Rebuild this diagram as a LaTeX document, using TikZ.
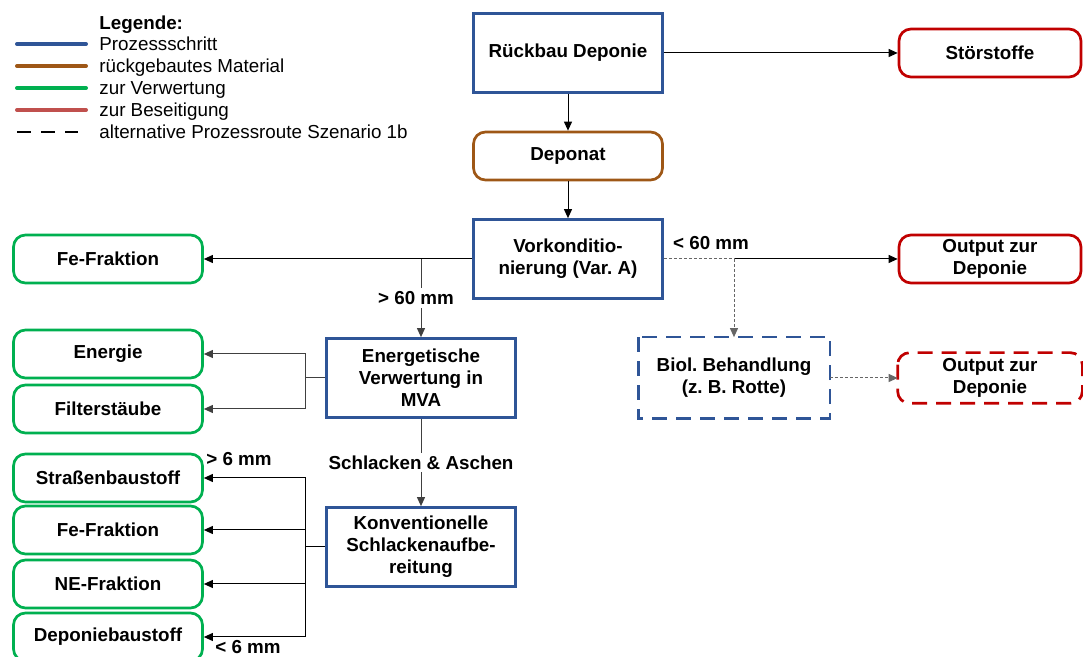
\documentclass[tikz,border=0pt]{standalone}
\usepackage{fontspec}
\setmainfont{Liberation Sans}
\usetikzlibrary{arrows.meta,positioning}

\definecolor{prozblau}{RGB}{47,85,151}
\definecolor{matbraun}{RGB}{158,87,22}
\definecolor{verwgruen}{RGB}{0,176,80}
\definecolor{beseitrot}{RGB}{192,0,0}
\definecolor{legrot}{RGB}{192,80,77}

\begin{document}
\frenchspacing
\begin{tikzpicture}[x=0.5pt,y=-0.5pt,
  font=\fontsize{9.4}{11}\selectfont\bfseries,
  >={Triangle[length=4.5pt,width=4pt]},
  schritt/.style={draw=prozblau,line width=1.35pt,fill=white,
    minimum width=94.5pt,minimum height=39.5pt,align=center,inner sep=1pt},
  material/.style={draw=matbraun,line width=1.35pt,rounded corners=6pt,
    minimum width=94.5pt,minimum height=24pt,align=center,inner sep=1pt},
  verwertung/.style={material,draw=verwgruen},
  beseitigung/.style={material,draw=beseitrot,minimum width=91pt},
  altbox/.style={dash pattern=on 7.5pt off 4.5pt},
  pfeil/.style={->,line width=0.5pt},
  altpfeil/.style={pfeil,black!60,dash pattern=on 1.5pt off 1pt},
  lbl/.style={fill=white,text=black,inner sep=1.5pt},
  legtxt/.style={anchor=base west,inner sep=0pt,font=\fontsize{9.4}{11}\selectfont}]

  \useasboundingbox (0,0) rectangle (1083,657);

  % Legende
  \node[anchor=base west,inner sep=0pt] (legkopf) at (99,29.5) {Legende:};
  \foreach \farbe/\txt [count=\i] in {prozblau/Prozessschritt,
      matbraun/rückgebautes Material, verwgruen/zur Verwertung,
      legrot/zur Beseitigung}{
    \draw[\farbe,line width=2pt,line cap=round] (17,{22+22*\i}) -- (86,{22+22*\i});
    \node[legtxt] (leg\i) at (99,{28.5+22*\i}) {\txt};
  }
  \draw[line width=0.75pt,dash pattern=on 7pt off 5pt] (17,132) -- (78,132);
  \node[legtxt] (leg5) at (99,138.5) {alternative Prozessroute Szenario 1b};

  % Hauptpfad
  \node[schritt] (rueckbau) at (568,53) {Rückbau Deponie};
  \node[beseitigung] (stoer) at (990,53) {Störstoffe};
  \node[material] (deponat) at (568,156) {Deponat};
  \node[schritt] (vork) at (568,259) {Vorkonditio-\\nierung (Var. A)};
  \node[verwertung] (fe1) at (108,259) {Fe-Fraktion};
  \node[beseitigung] (outA) at (990,259) {Output zur\\Deponie};

  \draw[pfeil] (rueckbau) -- (stoer);
  \draw[pfeil] (rueckbau) -- (deponat);
  \draw[pfeil] (deponat) -- (vork);
  \draw[pfeil] (vork) -- (fe1);

  % MVA
  \node[schritt] (energ) at (421,378) {Energetische\\Verwertung in\\MVA};
  \node[verwertung] (energie) at (108,354) {Energie};
  \node[verwertung] (filter) at (108,409) {Filterstäube};

  \draw[pfeil,black!75] (energ |- vork.west)
    -- node[lbl,xshift=-2.5pt]{> 60 mm} (energ.north);
  \draw[black!75,line width=0.5pt] (energ.west) -- ++(-20,0) coordinate (eb);
  \draw[pfeil,black!75] (eb) |- (energie.east);
  \draw[pfeil,black!75] (eb) |- (filter.east);

  % Schlacke
  \node[schritt] (konv) at (421,547) {Konventionelle\\Schlackenaufbe-\\reitung};
  \node[verwertung] (strasse) at (108,478) {Straßenbaustoff};
  \node[verwertung] (fe2) at (108,530) {Fe-Fraktion};
  \node[verwertung] (ne) at (108,584) {NE-Fraktion};
  \node[verwertung] (depbau) at (108,637) {Deponiebaustoff};

  \draw[pfeil,black!75] (energ) -- node[lbl]{Schlacken \& Aschen} (konv);
  \draw[line width=0.5pt] (konv.west) -- ++(-20,0) coordinate (kb);
  \draw[pfeil] (kb) |- (strasse.east);
  \draw[pfeil] (kb) |- (fe2.east);
  \draw[pfeil] (kb) |- (ne.east);
  \draw[pfeil] (kb) |- (depbau.east);
  \node[inner sep=0pt] (gr6) at (239,459) {> 6 mm};
  \node[inner sep=0pt] (kl6) at (248,647) {< 6 mm};

  % Szenario 1b
  \node[schritt,draw=none] (biol) at (734,378) {Biol. Behandlung\\(z. B. Rotte)};
  \draw[prozblau,line width=1.35pt,altbox] (biol.north west) rectangle (biol.south east);
  \node[beseitigung,draw=none] (outB) at (990,378) {Output zur\\Deponie};
  \draw[beseitrot,line width=1.35pt,altbox,rounded corners=6pt]
    (outB.north west) rectangle (outB.south east);

  \coordinate (sieb) at (biol |- vork.east);
  \draw[pfeil] (sieb) -- (outA);
  \draw[black!60,line width=0.5pt,dash pattern=on 1.5pt off 1pt] (vork.east) -- (sieb);
  \draw[altpfeil] (sieb) -- (biol.north);
  \draw[altpfeil] (biol) -- (outB);
  \node[inner sep=0pt] (kl60) at (711,243) {< 60 mm};

\end{tikzpicture}
\end{document}
